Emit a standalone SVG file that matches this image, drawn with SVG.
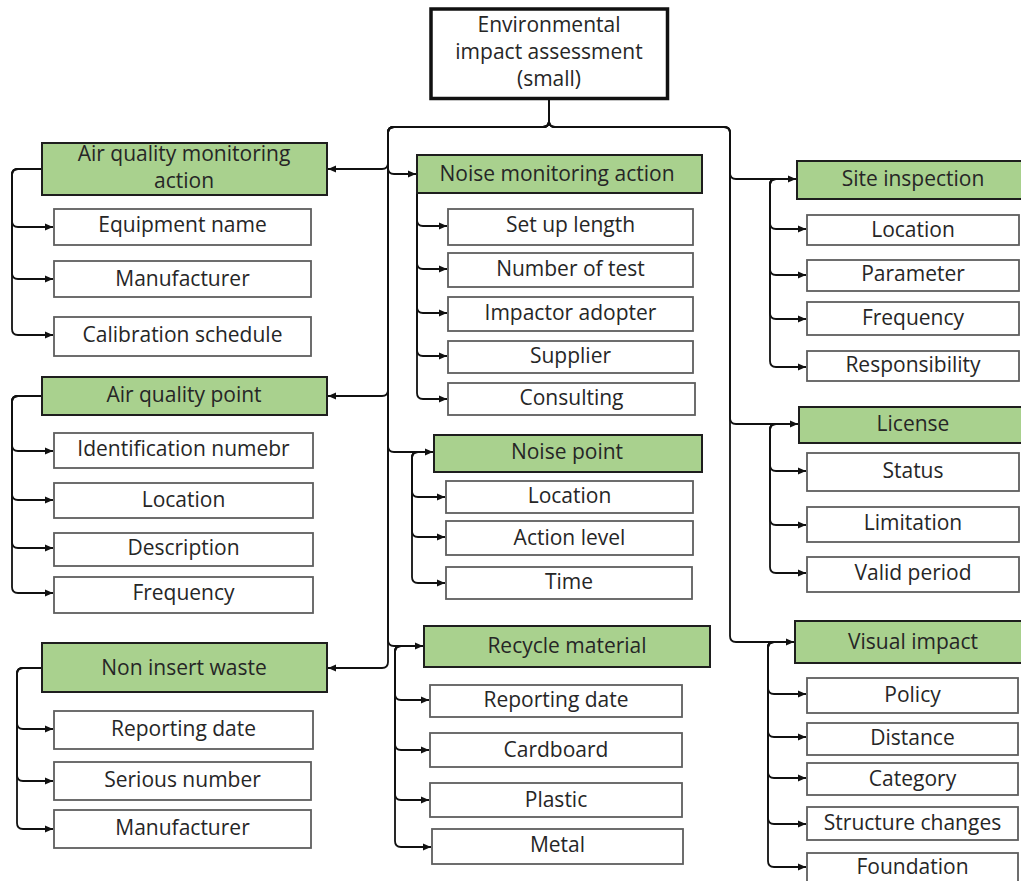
<svg xmlns="http://www.w3.org/2000/svg" width="1021" height="881" viewBox="0 0 1021 881">
  <defs>
    <marker id="arrow" markerUnits="userSpaceOnUse" markerWidth="9" markerHeight="8" refX="8" refY="4" orient="auto">
      <path d="M0,0.5 L8,4 L0,7.5 z" fill="#111"/>
    </marker>
    <style>
      .root { fill: #ffffff; stroke: #111111; stroke-width: 3.5; }
      .cat { fill: #a9d18e; stroke: #1e1e1e; stroke-width: 2; }
      .item { fill: #ffffff; stroke: #5e5e5e; stroke-width: 1.8; }
      text { font-family: "Open Sans", "Noto Sans", "Liberation Sans", sans-serif; font-size: 21px; fill: #262626; text-anchor: middle; }
      .link { fill: none; stroke: #111111; stroke-width: 1.8; marker-end: url(#arrow); }
    </style>
  </defs>
  <rect width="1021" height="881" fill="#ffffff"/>

  <!-- connectors -->
  <g id="connectors">
    <!-- root to categories, left trunk -->
    <path class="link" d="M549,99 V121 Q549,127 543,127 H394 Q388,127 388,133 V163 Q388,169 382,169 H328"/>
    <path class="link" d="M549,99 V121 Q549,127 543,127 H394 Q388,127 388,133 V168 Q388,174 394,174 H416"/>
    <path class="link" d="M549,99 V121 Q549,127 543,127 H394 Q388,127 388,133 V390 Q388,396 382,396 H328"/>
    <path class="link" d="M549,99 V121 Q549,127 543,127 H394 Q388,127 388,133 V446 Q388,452 394,452 H433"/>
    <path class="link" d="M549,99 V121 Q549,127 543,127 H394 Q388,127 388,133 V640 Q388,646 394,646 H423"/>
    <path class="link" d="M549,99 V121 Q549,127 543,127 H394 Q388,127 388,133 V662 Q388,668 382,668 H328"/>
    <!-- root to categories, right trunk -->
    <path class="link" d="M549,99 V121 Q549,127 555,127 H724 Q730,127 730,133 V173 Q730,179 736,179 H796"/>
    <path class="link" d="M549,99 V121 Q549,127 555,127 H724 Q730,127 730,133 V418 Q730,424 736,424 H798"/>
    <path class="link" d="M549,99 V121 Q549,127 555,127 H724 Q730,127 730,133 V636 Q730,642 736,642 H794"/>

    <!-- air quality monitoring action -->
    <path class="link" d="M42,169 H18 Q12,169 12,175 V221 Q12,227 18,227 H53"/>
    <path class="link" d="M42,169 H18 Q12,169 12,175 V273 Q12,279 18,279 H53"/>
    <path class="link" d="M42,169 H18 Q12,169 12,175 V329 Q12,335 18,335 H53"/>
    <!-- air quality point -->
    <path class="link" d="M42,396 H18 Q12,396 12,402 V445 Q12,451 18,451 H53"/>
    <path class="link" d="M42,396 H18 Q12,396 12,402 V494 Q12,500 18,500 H53"/>
    <path class="link" d="M42,396 H18 Q12,396 12,402 V542 Q12,548 18,548 H53"/>
    <path class="link" d="M42,396 H18 Q12,396 12,402 V587 Q12,593 18,593 H53"/>
    <!-- non insert waste -->
    <path class="link" d="M42,668 H23 Q17,668 17,674 V723 Q17,729 23,729 H53"/>
    <path class="link" d="M42,668 H23 Q17,668 17,674 V775 Q17,781 23,781 H53"/>
    <path class="link" d="M42,668 H23 Q17,668 17,674 V823 Q17,829 23,829 H53"/>

    <!-- noise monitoring action -->
    <path class="link" d="M417,193 V220 Q417,226 423,226 H447"/>
    <path class="link" d="M417,193 V263 Q417,269 423,269 H447"/>
    <path class="link" d="M417,193 V307 Q417,313 423,313 H447"/>
    <path class="link" d="M417,193 V350 Q417,356 423,356 H447"/>
    <path class="link" d="M417,193 V393 Q417,399 423,399 H447"/>
    <!-- noise point -->
    <path class="link" d="M434,452 H418 Q412,452 412,458 V491 Q412,497 418,497 H445"/>
    <path class="link" d="M434,452 H418 Q412,452 412,458 V531 Q412,537 418,537 H445"/>
    <path class="link" d="M434,452 H418 Q412,452 412,458 V577 Q412,583 418,583 H445"/>
    <!-- recycle material -->
    <path class="link" d="M424,646 H401 Q395,646 395,652 V694 Q395,700 401,700 H429"/>
    <path class="link" d="M424,646 H401 Q395,646 395,652 V744 Q395,750 401,750 H429"/>
    <path class="link" d="M424,646 H401 Q395,646 395,652 V794 Q395,800 401,800 H429"/>
    <path class="link" d="M424,646 H401 Q395,646 395,652 V841 Q395,847 401,847 H431"/>

    <!-- site inspection -->
    <path class="link" d="M797,179 H776 Q770,179 770,185 V223 Q770,229 776,229 H806"/>
    <path class="link" d="M797,179 H776 Q770,179 770,185 V269 Q770,275 776,275 H806"/>
    <path class="link" d="M797,179 H776 Q770,179 770,185 V313 Q770,319 776,319 H806"/>
    <path class="link" d="M797,179 H776 Q770,179 770,185 V361 Q770,367 776,367 H806"/>
    <!-- license -->
    <path class="link" d="M799,424 H776 Q770,424 770,430 V465 Q770,471 776,471 H806"/>
    <path class="link" d="M799,424 H776 Q770,424 770,430 V519 Q770,525 776,525 H806"/>
    <path class="link" d="M799,424 H776 Q770,424 770,430 V567 Q770,573 776,573 H806"/>
    <!-- visual impact -->
    <path class="link" d="M795,642 H774 Q768,642 768,648 V688 Q768,694 774,694 H806"/>
    <path class="link" d="M795,642 H774 Q768,642 768,648 V731 Q768,737 774,737 H806"/>
    <path class="link" d="M795,642 H774 Q768,642 768,648 V772 Q768,778 774,778 H806"/>
    <path class="link" d="M795,642 H774 Q768,642 768,648 V818 Q768,824 774,824 H806"/>
    <path class="link" d="M795,642 H774 Q768,642 768,648 V861 Q768,867 774,867 H806"/>
  </g>

  <!-- root -->
  <g id="eia-small">
    <rect class="root" x="431" y="9" width="236.5" height="89.5"/>
    <text x="549" y="32">Environmental</text>
    <text x="549" y="59">impact assessment</text>
    <text x="549" y="86">(small)</text>
  </g>

  <!-- left column -->
  <g id="air-quality-monitoring-action">
    <rect class="cat" x="42" y="143" width="285" height="52"/>
    <text x="184" y="161">Air quality monitoring</text>
    <text x="184" y="188">action</text>
  </g>
  <g id="aqma-equipment-name">
    <rect class="item" x="54" y="209" width="257" height="36"/>
    <text x="182.5" y="232">Equipment name</text>
  </g>
  <g id="aqma-manufacturer">
    <rect class="item" x="54" y="261" width="257" height="36"/>
    <text x="182.5" y="286">Manufacturer</text>
  </g>
  <g id="aqma-calibration-schedule">
    <rect class="item" x="54" y="317" width="257" height="39"/>
    <text x="182.5" y="342">Calibration schedule</text>
  </g>

  <g id="air-quality-point">
    <rect class="cat" x="42" y="377" width="285" height="38"/>
    <text x="184" y="402">Air quality point</text>
  </g>
  <g id="aqp-identification-number">
    <rect class="item" x="54" y="433" width="259" height="35"/>
    <text x="183.5" y="456">Identification numebr</text>
  </g>
  <g id="aqp-location">
    <rect class="item" x="54" y="483" width="259" height="35"/>
    <text x="183.5" y="507">Location</text>
  </g>
  <g id="aqp-description">
    <rect class="item" x="54" y="533" width="259" height="33"/>
    <text x="183.5" y="555">Description</text>
  </g>
  <g id="aqp-frequency">
    <rect class="item" x="54" y="577" width="259" height="36"/>
    <text x="183.5" y="600">Frequency</text>
  </g>

  <g id="non-insert-waste">
    <rect class="cat" x="42" y="643" width="285" height="49"/>
    <text x="184" y="675">Non insert waste</text>
  </g>
  <g id="niw-reporting-date">
    <rect class="item" x="54" y="711" width="259" height="38"/>
    <text x="183.5" y="736">Reporting date</text>
  </g>
  <g id="niw-serious-number">
    <rect class="item" x="54" y="762" width="257" height="38"/>
    <text x="182.5" y="787">Serious number</text>
  </g>
  <g id="niw-manufacturer">
    <rect class="item" x="54" y="810" width="257" height="38"/>
    <text x="182.5" y="835">Manufacturer</text>
  </g>

  <!-- middle column -->
  <g id="noise-monitoring-action">
    <rect class="cat" x="417" y="155" width="285" height="38"/>
    <text x="557" y="181">Noise monitoring action</text>
  </g>
  <g id="nma-set-up-length">
    <rect class="item" x="448" y="209" width="245" height="36"/>
    <text x="570.5" y="232">Set up length</text>
  </g>
  <g id="nma-number-of-test">
    <rect class="item" x="448" y="253" width="245" height="34"/>
    <text x="570.5" y="276">Number of test</text>
  </g>
  <g id="nma-impactor-adopter">
    <rect class="item" x="448" y="297" width="245" height="34"/>
    <text x="570.5" y="320">Impactor adopter</text>
  </g>
  <g id="nma-supplier">
    <rect class="item" x="448" y="341" width="245" height="32"/>
    <text x="570.5" y="363">Supplier</text>
  </g>
  <g id="nma-consulting">
    <rect class="item" x="448" y="383" width="247" height="32"/>
    <text x="571.5" y="405">Consulting</text>
  </g>

  <g id="noise-point">
    <rect class="cat" x="434" y="435" width="268" height="37"/>
    <text x="567" y="459">Noise point</text>
  </g>
  <g id="np-location">
    <rect class="item" x="446" y="481" width="247" height="32"/>
    <text x="569.5" y="503">Location</text>
  </g>
  <g id="np-action-level">
    <rect class="item" x="446" y="521" width="247" height="34"/>
    <text x="569.5" y="545">Action level</text>
  </g>
  <g id="np-time">
    <rect class="item" x="446" y="567" width="246" height="32"/>
    <text x="569" y="589">Time</text>
  </g>

  <g id="recycle-material">
    <rect class="cat" x="424" y="626" width="286" height="41"/>
    <text x="567" y="653">Recycle material</text>
  </g>
  <g id="rm-reporting-date">
    <rect class="item" x="430" y="685" width="252" height="32"/>
    <text x="556" y="707">Reporting date</text>
  </g>
  <g id="rm-cardboard">
    <rect class="item" x="430" y="733" width="252" height="34"/>
    <text x="556" y="757">Cardboard</text>
  </g>
  <g id="rm-plastic">
    <rect class="item" x="430" y="783" width="252" height="34"/>
    <text x="556" y="807">Plastic</text>
  </g>
  <g id="rm-metal">
    <rect class="item" x="432" y="829" width="251" height="35"/>
    <text x="557.5" y="852">Metal</text>
  </g>

  <!-- right column -->
  <g id="site-inspection">
    <rect class="cat" x="797" y="161" width="236" height="38"/>
    <text x="913" y="186">Site inspection</text>
  </g>
  <g id="si-location">
    <rect class="item" x="807" y="215" width="212" height="30"/>
    <text x="913" y="237">Location</text>
  </g>
  <g id="si-parameter">
    <rect class="item" x="807" y="260" width="212" height="31"/>
    <text x="913" y="281">Parameter</text>
  </g>
  <g id="si-frequency">
    <rect class="item" x="807" y="302" width="212" height="33"/>
    <text x="913" y="325">Frequency</text>
  </g>
  <g id="si-responsibility">
    <rect class="item" x="807" y="351" width="212" height="30"/>
    <text x="913" y="372">Responsibility</text>
  </g>

  <g id="license">
    <rect class="cat" x="799" y="407" width="234" height="36"/>
    <text x="913" y="431">License</text>
  </g>
  <g id="lic-status">
    <rect class="item" x="807" y="453" width="212" height="38"/>
    <text x="913" y="478">Status</text>
  </g>
  <g id="lic-limitation">
    <rect class="item" x="807" y="507" width="212" height="35"/>
    <text x="913" y="530">Limitation</text>
  </g>
  <g id="lic-valid-period">
    <rect class="item" x="807" y="557" width="212" height="35"/>
    <text x="913" y="580">Valid period</text>
  </g>

  <g id="visual-impact">
    <rect class="cat" x="795" y="621" width="238" height="42"/>
    <text x="913" y="649">Visual impact</text>
  </g>
  <g id="vi-policy">
    <rect class="item" x="807" y="678" width="211" height="35"/>
    <text x="912.5" y="702">Policy</text>
  </g>
  <g id="vi-distance">
    <rect class="item" x="807" y="723" width="211" height="32"/>
    <text x="912.5" y="745">Distance</text>
  </g>
  <g id="vi-category">
    <rect class="item" x="807" y="763" width="211" height="32"/>
    <text x="912.5" y="786">Category</text>
  </g>
  <g id="vi-structure-changes">
    <rect class="item" x="807" y="807" width="211" height="33"/>
    <text x="912.5" y="830">Structure changes</text>
  </g>
  <g id="vi-foundation">
    <rect class="item" x="807" y="853" width="211" height="36"/>
    <text x="912.5" y="874">Foundation</text>
  </g>
</svg>
